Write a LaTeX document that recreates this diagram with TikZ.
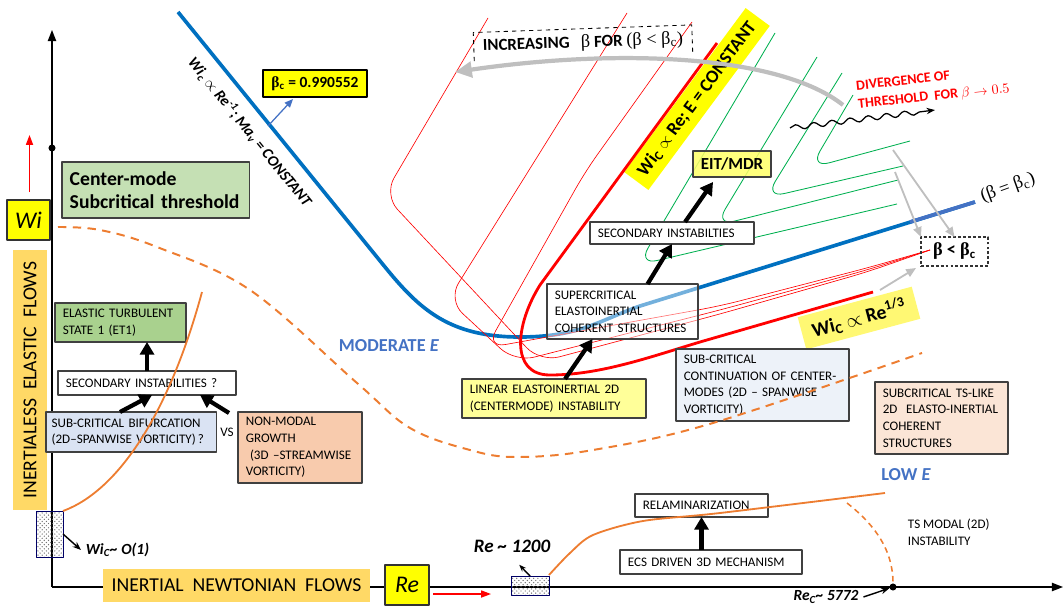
\documentclass[tikz,border=0pt]{standalone}
\usepackage{fontspec}
\setmainfont{Carlito}
\newfontfamily\grk{Liberation Serif}
\usetikzlibrary{arrows.meta, calc, patterns, decorations.pathmorphing}

\definecolor{wiyellow}{HTML}{FFFF00}
\definecolor{flowgold}{HTML}{FFD966}
\definecolor{modegreen}{HTML}{C5E0B4}
\definecolor{etgreen}{HTML}{A9D18E}
\definecolor{bifblue}{HTML}{DAE3F3}
\definecolor{contblue}{HTML}{EDF2F9}
\definecolor{growpeach}{HTML}{F8CBAD}
\definecolor{tspeach}{HTML}{FBE5D6}
\definecolor{linyellow}{HTML}{FFFF99}
\definecolor{eityellow}{HTML}{FFFF66}
\definecolor{curveorange}{HTML}{ED7D31}
\definecolor{betablue}{HTML}{0070C0}
\definecolor{labelblue}{HTML}{4472C4}
\definecolor{curvegreen}{HTML}{00B050}
\definecolor{arrowgray}{HTML}{BFBFBF}
\definecolor{boxline}{HTML}{404040}

\begin{document}
\begin{tikzpicture}[x=0.025cm, y=-0.025cm, line join=round,
	stagebox/.style={draw=boxline, line width=0.8pt, outer sep=0pt, inner xsep=5.5pt, inner ysep=2pt, anchor=north west, align=left, font=\fontsize{9.3}{11.8}\selectfont},
	plaintext/.style={align=left, font=\fontsize{9.3}{11.8}\selectfont},
	bigarrow/.style={-{Triangle[length=9pt, width=10pt]}, line width=3pt},
	grayarrow/.style={-{Triangle[length=7pt, width=6pt]}, draw=arrowgray, line width=1.3pt},
	thinred/.style={red, line width=0.45pt, rounded corners=14pt},
	thingreen/.style={curvegreen, line width=0.6pt, rounded corners=14pt},
	stipple/.style={draw=blue!40!black, line width=0.5pt, pattern=crosshatch dots, pattern color=black!55, outer sep=0pt, inner sep=0pt, anchor=north west}]
	
	\useasboundingbox (0,0) rectangle (1063,610);
	
	% axes
	\coordinate (origin) at (52,587);
	\coordinate (witop) at (52,30);
	\coordinate (reend) at (1063,587);
	\draw[line width=1pt, -{Triangle[length=8pt, width=6pt]}] (origin) -- (witop);
	\draw[line width=1pt, -{Triangle[length=8pt, width=6pt]}] (origin) -- (reend);
	\node[circle, fill, inner sep=0pt, minimum size=5pt] (widot) at (52,148) {};
	\node[circle, fill, inner sep=0pt, minimum size=5pt] (rcdot) at (893,587) {};
	
	% highlighted scalings
	\node[fill=wiyellow, rotate=53.5, minimum width=5.1cm, minimum height=0.75cm, font=\fontsize{13}{15}\selectfont\bfseries] (eband) at (697,99) {Wi\textsubscript{C} $\propto$ Re; E = CONSTANT};
	\node[fill=yellow!55, rotate=15, minimum width=2.95cm, minimum height=0.83cm, font=\fontsize{14}{16}\selectfont\bfseries] (cubeband) at (859,318) {Wi\textsubscript{C} $\propto$\ Re\textsuperscript{1/3}};
	
	% beta = beta_c
	\draw[betablue, line width=2.6pt] (178,12) -- (385,267) .. controls (420,310) and (450,337) .. (520,337) .. controls (580,337) and (600,320) .. (640,306) -- (975,202);
	\draw[labelblue, line width=2.6pt] (910,222) -- (975,202);
	\node[font=\grk\fontsize{13}{15}\selectfont, rotate=20] (betaeq) at (1008,188) {(β = β\textsubscript{c})};
	\node[font=\fontsize{11}{13}\selectfont\bfseries\itshape, rotate=-51] (blueline) at (250,132) {Wi\textsubscript{c} $\propto$ Re\textsuperscript{-1}; Ma\textsubscript{v} = CONSTANT};
	
	% beta < beta_c
	\draw[thinred] (488,18) -- (384,195) -- (540,362) -- (720,314) -- (867,272) -- (930,250);
	\draw[thinred] (627,13) -- (448,300) -- (515,362) -- (720,310) -- (867,270) -- (930,250);
	\draw[thinred] (692,22) -- (585,172) -- (486,348) -- (720,306) -- (867,268) -- (930,250);
	\draw[red, line width=2pt] (717,43) -- (540,285) .. controls (515,325) and (510,375) .. (550,375) .. controls (600,375) and (650,357) .. (700,342) -- (873,292);
	
	% beta > beta_c
	\draw[thingreen] (775,33) -- (638,265) -- (897,204);
	\draw[thingreen] (817,57) -- (715,226) -- (898,180);
	\draw[thingreen] (842,73) -- (765,198) -- (903,166);
	\draw[thingreen] (853,95) -- (810,168) -- (910,141);
	
	\draw[arrowgray, line width=3pt, -{Triangle[length=12pt, width=11pt]}] (843,105) .. controls (780,55) and (620,48) .. (455,72);
	\node[font=\fontsize{12}{14}\selectfont\bfseries, rotate=2, minimum width=5.45cm, minimum height=0.7cm] (increase) at (583,43) {INCREASING\ \ \ {\grk\mdseries\fontsize{13}{15}\selectfont β} FOR {\grk\mdseries\fontsize{13}{15}\selectfont (β < β\textsubscript{c})}};
	\draw[dashed, line width=0.6pt] (increase.south west) -- (increase.north west) -- (increase.north east) -- (increase.south east);
	\node[font=\fontsize{10}{13}\selectfont\bfseries, text=red, align=left, rotate=6] (diverge) at (933,88) {DIVERGENCE OF\\THRESHOLD\ \ FOR $\beta \rightarrow 0.5$};
	
	% axis labels
	\node[stagebox, fill=wiyellow, draw=black!80, minimum width=1.075cm, minimum height=1cm, font=\fontsize{17}{20}\selectfont\itshape] (wi) at (7,200) {Wi};
	\node[stagebox, fill=wiyellow, draw=black!80, minimum width=1.1cm, minimum height=1cm, font=\fontsize{17}{20}\selectfont\itshape] (re) at (385,565) {Re};
	\node[fill=flowgold, rotate=90, minimum width=6.5cm, minimum height=0.85cm, inner sep=0pt, font=\fontsize{14}{16}\selectfont] (inertialess) at (30,380) {INERTIALESS\ \ ELASTIC\ \ FLOWS};
	\node[fill=flowgold, minimum width=6.675cm, minimum height=0.825cm, inner sep=0pt, font=\fontsize{14}{16}\selectfont] (inertial) at (236.5,585.5) {INERTIAL\ \ NEWTONIAN\ \ FLOWS};
	\node[stagebox, fill=wiyellow, draw=black, minimum width=2.6cm, minimum height=0.675cm, font=\fontsize{11}{13}\selectfont\bfseries] (betac) at (263,70) {{\grk β}\textsubscript{c} = 0.990552};
	
	% stages
	\node[stagebox, fill=modegreen, minimum width=4.675cm, minimum height=1.4cm, text width=4.3cm, font=\fontsize{14}{16.5}\selectfont\bfseries] (centermode) at (62,162) {Center-mode\\Subcritical threshold};
	\node[stagebox, fill=etgreen, minimum width=3.275cm, minimum height=0.975cm, text width=2.885cm] (et1) at (55,303) {ELASTIC TURBULENT\\STATE 1 (ET1)};
	\node[stagebox, fill=white, minimum width=4.45cm, minimum height=0.6cm, text width=4.06cm] (secleft) at (58,371) {SECONDARY INSTABILITIES ?};
	\node[stagebox, fill=bifblue, inner xsep=4pt, minimum width=4.25cm, minimum height=1cm, text width=3.97cm] (bifurc) at (46,412) {SUB-CRITICAL BIFURCATION\\(2D–SPANWISE VORTICITY)\,?};
	\node[plaintext] (versus) at (227,432) {VS};
	\node[stagebox, fill=growpeach, minimum width=3.1cm, minimum height=1.775cm, text width=2.71cm] (nonmodal) at (238,412) {NON-MODAL\\GROWTH\\\hspace*{3pt}(3D –STREAMWISE\\VORTICITY)};
	\node[stagebox, fill=linyellow, minimum width=4.6cm, minimum height=0.975cm, text width=4.21cm] (linear) at (462,379) {LINEAR ELASTOINERTIAL 2D\\(CENTERMODE) INSTABILITY};
	\node[stagebox, fill=white, fill opacity=0.45, text opacity=1, minimum width=3.775cm, minimum height=1.375cm, text width=3.385cm] (supercrit) at (547,284) {SUPERCRITICAL\\ELASTOINERTIAL\\COHERENT STRUCTURES};
	\node[stagebox, fill=white, minimum width=4.1cm, minimum height=0.55cm, text width=3.71cm] (secright) at (590,222) {SECONDARY INSTABILTIES};
	\node[stagebox, fill=eityellow, fill opacity=0.85, text opacity=1, minimum width=1.95cm, minimum height=0.65cm, font=\fontsize{12}{14}\selectfont\bfseries] (eit) at (693,151) {EIT/MDR};
	\node[stagebox, fill=contblue, minimum width=4.325cm, minimum height=1.8cm, text width=3.935cm] (subcont) at (676,349) {SUB-CRITICAL\\CONTINUATION OF CENTER-\\MODES (2D – SPANWISE\\VORTICITY)};
	\node[stagebox, fill=tspeach, minimum width=3.325cm, minimum height=1.8cm, text width=2.935cm] (tslike) at (875,382) {SUBCRITICAL TS-LIKE\\2D\ \ ELASTO-INERTIAL\\COHERENT\\STRUCTURES};
	\node[stagebox, fill=white, minimum width=3.325cm, minimum height=0.575cm, text width=2.935cm] (relam) at (635,494) {RELAMINARIZATION};
	\node[stagebox, fill=white, minimum width=4.55cm, minimum height=0.6cm, text width=4.16cm] (ecs) at (620,550) {ECS DRIVEN 3D MECHANISM};
	\node[stagebox, draw=black!80, dash pattern=on 2pt off 1.5pt, minimum width=1.675cm, minimum height=0.725cm, font=\fontsize{13}{15}\selectfont\bfseries] (betabox) at (921,237) {{\grk β} < {\grk β}\textsubscript{c}};
	
	% regimes
	\node[font=\fontsize{13}{15}\selectfont\bfseries, text=labelblue] (moderate) at (389,346) {MODERATE \textit{E}};
	\node[font=\fontsize{13}{15}\selectfont\bfseries, text=labelblue] (lowe) at (906,475) {LOW \textit{E}};
	\node[plaintext, anchor=west] (tsmodal) at (903,532) {TS MODAL (2D)\\INSTABILITY};
	
	% thresholds on the axes
	\node[stipple, minimum width=0.675cm, minimum height=1.15cm] (lowwi) at (36,511) {};
	\node[stipple, minimum width=0.95cm, minimum height=0.475cm] (lowre) at (511,576) {};
	\node[font=\fontsize{11}{13}\selectfont\bfseries\itshape, anchor=west] (wiorder) at (81,550) {Wi\textsubscript{C}\textasciitilde\ O(1)};
	\node[font=\fontsize{13.5}{15}\selectfont\bfseries\itshape] (re1200) at (512,546) {Re \textasciitilde\ 1200};
	\node[font=\fontsize{11}{13}\selectfont\bfseries\itshape] (recrit) at (826,597) {Re\textsubscript{C}\textasciitilde\ 5772};
	
	% orange curves
	\draw[curveorange, line width=1.4pt, dash pattern=on 6pt off 4.5pt] plot[smooth, tension=0.6] coordinates {(58,227) (100,230) (157,247) (250,290) (357,383) (410,428) (470,450) (517,457) (593,450) (713,423) (922,353)};
	\draw[curveorange, line width=1.3pt] (lowwi.north east) .. controls (120,490) and (170,410) .. (202,292);
	\draw[curveorange, line width=1.3pt] plot[smooth] coordinates {(549,575) (570,553) (593,535) (643,521) (720,513) (885,493)};
	\draw[curveorange, line width=1.1pt, dash pattern=on 4pt off 3pt] (847,503) .. controls (875,525) and (893,550) .. (rcdot);
	
	% arrows
	\draw[bigarrow] (secleft.north) -- (secleft.north |- et1.south);
	\draw[bigarrow] ($(bifurc.north)+(-11,0)$) -- ($(secleft.south)+(5,0)$);
	\draw[bigarrow] ($(nonmodal.north west)+(-9,1)$) -- ($(secleft.south)+(53,0)$);
	\draw[bigarrow] (relam.south |- ecs.north) -- (relam.south);
	\draw[bigarrow] ($(linear.north)+(11,0)$) -- ($(supercrit.south)+(-30,0)$);
	\draw[bigarrow] ($(supercrit.north)+(25,0)$) -- (secright.south);
	\draw[bigarrow] ($(secright.north)+(13,0)$) -- ($(eit.south)+(-19,5)$);
	
	\draw[-{Stealth[length=6pt]}, line width=1pt] (lowwi.east) -- (wiorder.west);
	\draw[-{Stealth[length=5pt]}, line width=1pt] (lowre.north) -- ($(lowre.north)!0.6!(re1200.south)$);
	\draw[-{Stealth[length=6pt]}, line width=1pt] (recrit.east) -- (rcdot);
	
	\draw[red, line width=1pt, -{Triangle[length=7pt, width=5pt]}] ($(wi.north)+(1,-8)$) -- ($(wi.north)+(1,-65)$);
	\draw[red, line width=1pt, -{Triangle[length=7pt, width=5pt]}] ($(re.east)+(4,9)$) -- ($(re.east)+(62,9)$);
	
	\coordinate (betaonline) at (268,126);
	\draw[labelblue, line width=0.9pt, -{Triangle[length=6pt, width=5pt]}] (betaonline) -- ($(betac.south west)+(30,2)$);
	
	\coordinate (greenend) at (893,150);
	\coordinate (greenend2) at (895,172);
	\coordinate (redend) at (880,290);
	\draw[grayarrow] (greenend) -- (betabox.north);
	\draw[grayarrow] (greenend2) -- (betabox.north west);
	\draw[grayarrow] (redend) -- ($(betabox.south west)+(-5,2)$);
	
	\coordinate (wavestart) at (790,128);
	\coordinate (waveend) at (935,110);
	\draw[line width=0.9pt, -{Stealth[length=6pt]}, decorate, decoration={snake, amplitude=1.8pt, segment length=13pt, post length=5pt}] (wavestart) -- (waveend);
	
\end{tikzpicture}
\end{document}
